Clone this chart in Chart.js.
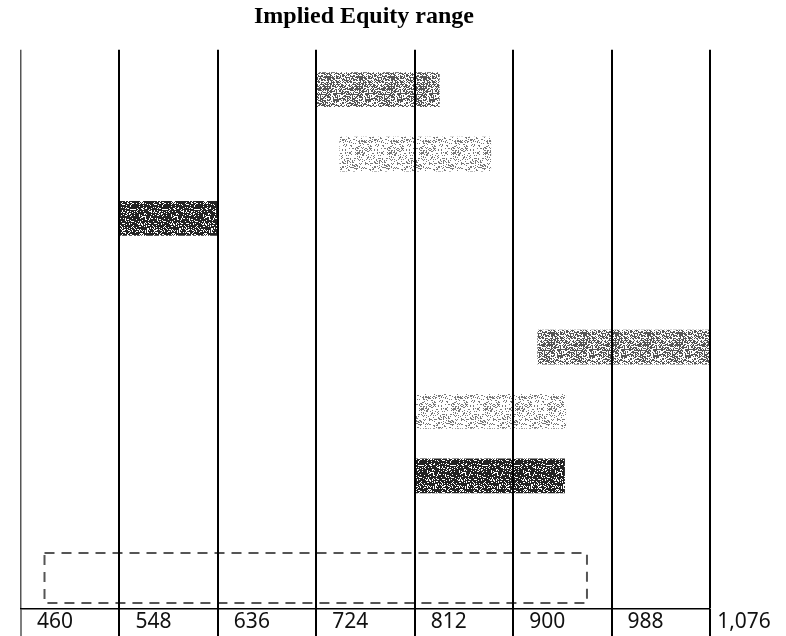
<!DOCTYPE html>
<html>
<head>
<meta charset="utf-8">
<title>Implied Equity range</title>
<script src="https://cdn.jsdelivr.net/npm/chart.js@4.4.1/dist/chart.umd.min.js"></script>
<style>
    html, body { margin: 0; padding: 0; background: #fff; }
    #wrap { width: 786px; height: 636px; }
</style>
</head>
<body>
<div id="wrap"><canvas id="equityChart"></canvas></div>
<script>
// Tick values on the equity axis
const tickValues = [460, 548, 636, 724, 812, 900, 988, 1076];

// Floating bars: row position (top = 0) and low / high of each range
const barRows  = [0, 1, 2, 4, 5, 6];
const barLows  = [724, 745, 548, 922, 813, 812];
const barHighs = [834, 880, 636, 1076, 947, 946];
const barShade = ['mid', 'light', 'dark', 'mid', 'light', 'dark'];

// Dashed outline box near the bottom
const boxRow   = 7.59;
const boxRange = [481, 966];

// Dithered grey fills, like the scanned original
function makeDither(density, ink) {
    const c = document.createElement('canvas');
    c.width = 32;
    c.height = 32;
    const g = c.getContext('2d');
    g.fillStyle = '#fff';
    g.fillRect(0, 0, 32, 32);
    g.fillStyle = ink;
    for (let y = 0; y < 32; y++) {
        for (let x = 0; x < 32; x++) {
            let h = Math.sin(x * 12.9898 + y * 78.233) * 43758.5453;
            h -= Math.floor(h);
            if (h < density) g.fillRect(x, y, 1, 1);
        }
    }
    return g.createPattern(c, 'repeat');
}

const fills = {
    dark:  makeDither(0.78, '#222'),
    mid:   makeDither(0.55, '#555'),
    light: makeDither(0.25, '#777')
};

const gridColor = i => i === 0 ? '#555' : '#000';
const gridWidth = i => i === 0 ? 1.5 : 2;

// Draws the dashed outline around the box dataset's element
const dashedBox = {
    id: 'dashedBox',
    afterDatasetsDraw(chart) {
        const meta = chart.getDatasetMeta(1);
        const ctx = chart.ctx;
        meta.data.forEach(el => {
            const p = el.getProps(['x', 'y', 'base', 'height'], true);
            ctx.save();
            ctx.strokeStyle = '#555';
            ctx.lineWidth = 2;
            ctx.setLineDash([10, 7]);
            ctx.strokeRect(p.base, p.y - p.height / 2, p.x - p.base, p.height);
            ctx.restore();
        });
    }
};

// Carries the vertical grid lines down through the tick label row
const gridDown = {
    id: 'gridDown',
    afterDraw(chart) {
        const xScale = chart.scales.x;
        const ctx = chart.ctx;
        const top = chart.chartArea.bottom;
        ctx.save();
        xScale.ticks.forEach((t, i) => {
            const x = Math.round(xScale.getPixelForValue(t.value));
            ctx.strokeStyle = gridColor(i);
            ctx.lineWidth = gridWidth(i);
            ctx.beginPath();
            ctx.moveTo(x, top);
            ctx.lineTo(x, chart.height);
            ctx.stroke();
        });
        ctx.restore();
    }
};

const ctx = document.getElementById('equityChart').getContext('2d');
const equityChart = new Chart(ctx, {
    type: 'bar',
    data: {
        datasets: [{
            label: 'Ranges',
            data: barRows.map((r, i) => ({ x: [barLows[i], barHighs[i]], y: r })),
            backgroundColor: barShade.map(s => fills[s]),
            borderWidth: 0,
            barThickness: 34,
            grouped: false
        }, {
            label: 'Box',
            data: [{ x: boxRange, y: boxRow }],
            backgroundColor: 'rgba(0,0,0,0)',
            borderWidth: 0,
            barThickness: 50,
            grouped: false
        }]
    },
    options: {
        indexAxis: 'y',
        responsive: true,
        maintainAspectRatio: false,
        animation: false,
        layout: {
            padding: { left: 18, right: 76, top: 0, bottom: 0 }
        },
        plugins: {
            legend: { display: false },
            tooltip: { enabled: false },
            title: {
                display: true,
                text: 'Implied Equity range',
                color: '#000',
                font: { family: 'Liberation Serif', size: 24, weight: 'bold' },
                padding: { top: 2, bottom: 19 }
            }
        },
        scales: {
            x: {
                type: 'linear',
                min: 460,
                max: 1076,
                afterBuildTicks: axis => {
                    axis.ticks = tickValues.map(v => ({ value: v }));
                },
                grid: {
                    z: 1,
                    color: c => gridColor(c.index),
                    lineWidth: c => gridWidth(c.index),
                    drawTicks: false
                },
                border: { display: true, color: '#000', width: 1.5, z: 1 },
                ticks: {
                    color: '#111',
                    font: { family: 'Noto Sans', size: 21, lineHeight: 1 },
                    padding: 3,
                    labelOffset: 34,
                    maxRotation: 0,
                    autoSkip: false,
                    callback: v => v.toLocaleString('en-US')
                }
            },
            y: {
                type: 'linear',
                display: false,
                reverse: true,
                offset: false,
                min: -0.62,
                max: 8.07
            }
        }
    },
    plugins: [dashedBox, gridDown]
});
</script>
</body>
</html>
